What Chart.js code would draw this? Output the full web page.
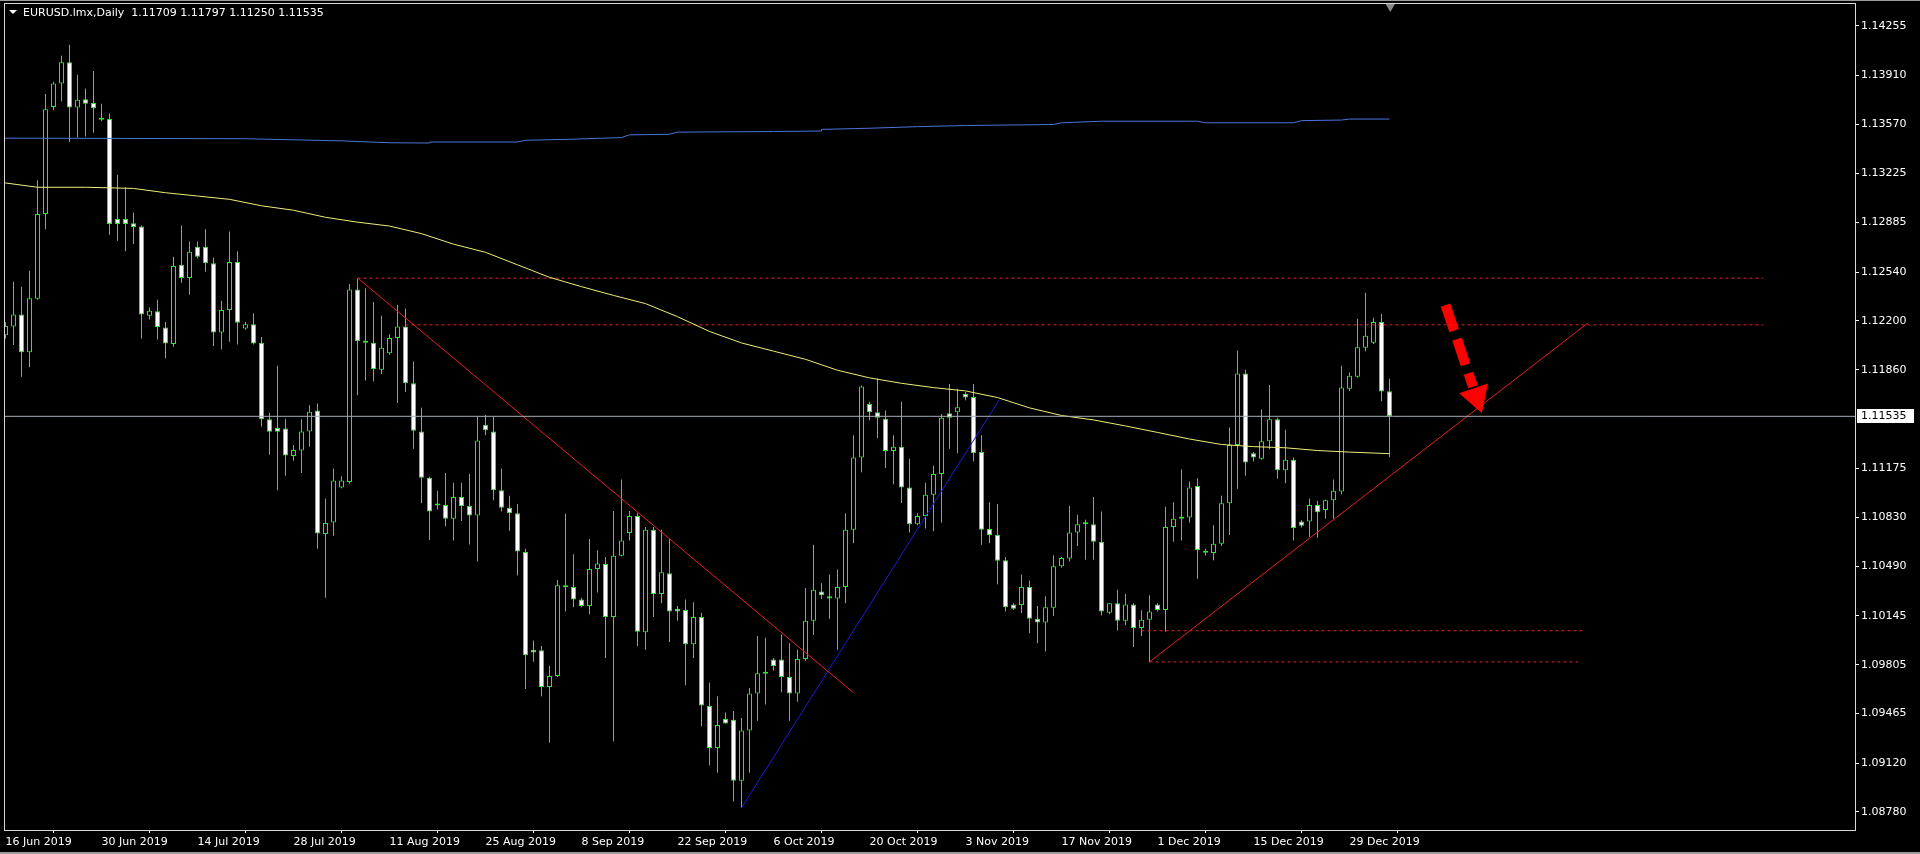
<!DOCTYPE html>
<html>
<head>
<meta charset="utf-8">
<title>EURUSD.lmx,Daily</title>
<script src="https://cdn.jsdelivr.net/npm/chart.js@4.4.1/dist/chart.umd.min.js"></script>
<style>
  html, body { margin: 0; padding: 0; background: #000; overflow: hidden; }
  #wrap { position: relative; width: 1920px; height: 854px; }
  canvas { display: block; background: #000; }
</style>
</head>
<body>
<div id="wrap"><canvas id="priceChart" width="1920" height="854"></canvas></div>
<script>
const symbolTitle = "EURUSD.lmx,Daily";
const lastQuote = ["1.11709", "1.11797", "1.11250", "1.11535"];
const bidPrice = 1.11535;

// daily bars, 16 Jun 2019 .. 3 Jan 2020 (broker has sunday bars)
const opens = [
  1.12100, 1.12161, 1.12244, 1.11982, 1.12354, 1.12943, 1.13689, 1.13853, 1.14001, 1.13685,
  1.13742, 1.13716, 1.13605, 1.13605, 1.12909, 1.12909, 1.12879, 1.12856, 1.12236, 1.12267,
  1.12153, 1.12039, 1.12590, 1.12499, 1.12715, 1.12715, 1.12601, 1.12119, 1.12275, 1.12609,
  1.12146, 1.12176, 1.12047, 1.11514, 1.11453, 1.11450, 1.11259, 1.11297, 1.11430, 1.11575,
  1.10716, 1.10796, 1.11039, 1.11077, 1.12419, 1.12058, 1.12047, 1.11860, 1.11974, 1.12081,
  1.12161, 1.11765, 1.11430, 1.11107, 1.10920, 1.10917, 1.10822, 1.10974, 1.10910, 1.10845,
  1.11476, 1.11430, 1.11020, 1.10898, 1.10860, 1.10590, 1.09910, 1.09906, 1.09651, 1.09727,
  1.10358, 1.10347, 1.10259, 1.10214, 1.10472, 1.10507, 1.10138, 1.10564, 1.10723, 1.10841,
  1.10031, 1.10746, 1.10298, 1.10442, 1.10195, 1.10187, 1.09948, 1.10138, 1.09518, 1.09225,
  1.09427, 1.09423, 1.08997, 1.09347, 1.09605, 1.09746, 1.09841, 1.09841, 1.09720, 1.09605,
  1.09845, 1.10111, 1.10316, 1.10282, 1.10267, 1.10347, 1.10746, 1.11248, 1.11621, 1.11564,
  1.11518, 1.11294, 1.11324, 1.11039, 1.10784, 1.10841, 1.10989, 1.11134, 1.11556, 1.11564,
  1.11693, 1.11670, 1.11286, 1.10750, 1.10708, 1.10533, 1.10225, 1.10221, 1.10347, 1.10126,
  1.10100, 1.10202, 1.10491, 1.10545, 1.10727, 1.10784, 1.10784, 1.10662, 1.10168, 1.10233,
  1.10111, 1.10225, 1.10062, 1.10119, 1.10225, 1.10187, 1.10765, 1.10822, 1.10830, 1.11050,
  1.10590, 1.10583, 1.10647, 1.10929, 1.11335, 1.11834, 1.11278, 1.11240, 1.11362, 1.11514,
  1.11160, 1.11233, 1.10803, 1.10803, 1.10917, 1.10883, 1.10951, 1.11012, 1.11727, 1.11811,
  1.12012, 1.12047, 1.12191, 1.11709
];
const highs = [
  1.12191, 1.12472, 1.12438, 1.12548, 1.13179, 1.13780, 1.13864, 1.14046, 1.14122, 1.13913,
  1.13818, 1.13940, 1.13712, 1.13643, 1.13217, 1.13130, 1.12955, 1.12864, 1.12293, 1.12347,
  1.12191, 1.12647, 1.12864, 1.12753, 1.12753, 1.12837, 1.12639, 1.12339, 1.12822, 1.12685,
  1.12191, 1.12252, 1.12088, 1.11560, 1.11887, 1.11518, 1.11335, 1.11514, 1.11613, 1.11624,
  1.10963, 1.11172, 1.11118, 1.12457, 1.12495, 1.12426, 1.12331, 1.12236, 1.12107, 1.12312,
  1.12286, 1.11917, 1.11594, 1.11115, 1.11016, 1.11141, 1.11073, 1.11073, 1.11134, 1.11533,
  1.11545, 1.11533, 1.11172, 1.10982, 1.10925, 1.10613, 1.09974, 1.09936, 1.09796, 1.10396,
  1.10856, 1.10575, 1.10271, 1.10681, 1.10602, 1.10556, 1.10875, 1.11096, 1.10875, 1.10860,
  1.10765, 1.10765, 1.10746, 1.10681, 1.10214, 1.10259, 1.10240, 1.10168, 1.09682, 1.09586,
  1.09472, 1.09484, 1.09434, 1.09644, 1.10005, 1.09993, 1.09853, 1.10016, 1.09955, 1.09910,
  1.10339, 1.10640, 1.10373, 1.10434, 1.10469, 1.10860, 1.11404, 1.11750, 1.11636, 1.11799,
  1.11575, 1.11404, 1.11636, 1.11240, 1.10860, 1.11073, 1.11191, 1.11552, 1.11761, 1.11727,
  1.11704, 1.11761, 1.11404, 1.10936, 1.10925, 1.10556, 1.10233, 1.10434, 1.10392, 1.10214,
  1.10282, 1.10567, 1.10556, 1.10910, 1.10849, 1.10815, 1.10974, 1.10872, 1.10233, 1.10328,
  1.10298, 1.10233, 1.10184, 1.10290, 1.10233, 1.10906, 1.10936, 1.11164, 1.11081, 1.11104,
  1.10613, 1.10777, 1.10982, 1.11457, 1.11993, 1.11860, 1.11286, 1.11583, 1.11754, 1.11526,
  1.11442, 1.11248, 1.10811, 1.10963, 1.10948, 1.10955, 1.11096, 1.11887, 1.11841, 1.12214,
  1.12396, 1.12221, 1.12248, 1.11797
];
const lows = [
  1.12077, 1.12031, 1.11811, 1.11876, 1.12347, 1.12837, 1.13666, 1.13727, 1.13446, 1.13476,
  1.13484, 1.13510, 1.13590, 1.12799, 1.12757, 1.12685, 1.12735, 1.12077, 1.12210, 1.12070,
  1.11940, 1.12020, 1.12465, 1.12381, 1.12636, 1.12541, 1.12024, 1.12001, 1.12054, 1.12035,
  1.12138, 1.12035, 1.11465, 1.11267, 1.11020, 1.11122, 1.11225, 1.11141, 1.11324, 1.10613,
  1.10271, 1.10704, 1.11035, 1.11065, 1.11681, 1.11784, 1.11777, 1.11830, 1.11963, 1.11628,
  1.11704, 1.11309, 1.10929, 1.10674, 1.10887, 1.10769, 1.10670, 1.10807, 1.10643, 1.10525,
  1.11404, 1.10951, 1.10872, 1.10738, 1.10427, 1.09636, 1.09826, 1.09586, 1.09263, 1.09720,
  1.10176, 1.10206, 1.10206, 1.10157, 1.10309, 1.09853, 1.09271, 1.10560, 1.10670, 1.09936,
  1.09910, 1.10138, 1.10233, 1.09963, 1.10111, 1.09663, 1.09853, 1.09377, 1.09104, 1.09054,
  1.09396, 1.08853, 1.08807, 1.09054, 1.09415, 1.09529, 1.09765, 1.09613, 1.09415, 1.09548,
  1.09834, 1.10012, 1.10263, 1.10126, 1.09910, 1.10233, 1.10651, 1.11145, 1.11507, 1.11385,
  1.11176, 1.11062, 1.10932, 1.10727, 1.10777, 1.10754, 1.10735, 1.10796, 1.11309, 1.11278,
  1.11647, 1.11221, 1.10640, 1.10651, 1.10366, 1.10176, 1.10187, 1.10165, 1.10024, 1.09955,
  1.09898, 1.10145, 1.10480, 1.10525, 1.10632, 1.10537, 1.10537, 1.10149, 1.10157, 1.10043,
  1.10081, 1.09929, 1.10005, 1.09822, 1.10176, 1.10035, 1.10662, 1.10670, 1.10796, 1.10404,
  1.10564, 1.10533, 1.10632, 1.10708, 1.11031, 1.11122, 1.11221, 1.11233, 1.11305, 1.11100,
  1.11069, 1.10670, 1.10761, 1.10697, 1.10689, 1.10822, 1.10822, 1.10993, 1.11712, 1.11803,
  1.11989, 1.12039, 1.11640, 1.11250
];
const closes = [
  1.12164, 1.12244, 1.11982, 1.12358, 1.12943, 1.13674, 1.13853, 1.14001, 1.13685, 1.13739,
  1.13712, 1.13681, 1.13600, 1.12875, 1.12875, 1.12875, 1.12853, 1.12244, 1.12271, 1.12157,
  1.12043, 1.12582, 1.12499, 1.12681, 1.12647, 1.12601, 1.12119, 1.12275, 1.12609, 1.12187,
  1.12176, 1.12043, 1.11514, 1.11427, 1.11427, 1.11263, 1.11301, 1.11430, 1.11567, 1.10719,
  1.10792, 1.11088, 1.11088, 1.12419, 1.12058, 1.12047, 1.11864, 1.12012, 1.12081, 1.12161,
  1.11765, 1.11435, 1.11107, 1.10872, 1.10914, 1.10822, 1.10974, 1.10910, 1.10845, 1.11366,
  1.11438, 1.11020, 1.10898, 1.10860, 1.10594, 1.09872, 1.09891, 1.09651, 1.09727, 1.10358,
  1.10345, 1.10259, 1.10214, 1.10472, 1.10510, 1.10138, 1.10564, 1.10670, 1.10841, 1.10035,
  1.10746, 1.10298, 1.10449, 1.10176, 1.10176, 1.09948, 1.10138, 1.09522, 1.09225, 1.09385,
  1.09396, 1.08997, 1.09347, 1.09605, 1.09746, 1.09742, 1.09796, 1.09720, 1.09605, 1.09845,
  1.10111, 1.10328, 1.10290, 1.10267, 1.10347, 1.10746, 1.11248, 1.11743, 1.11564, 1.11526,
  1.11294, 1.11324, 1.11039, 1.10784, 1.10841, 1.10989, 1.11134, 1.11526, 1.11526, 1.11598,
  1.11666, 1.11278, 1.10746, 1.10708, 1.10529, 1.10206, 1.10195, 1.10347, 1.10126, 1.10100,
  1.10206, 1.10491, 1.10548, 1.10727, 1.10784, 1.10792, 1.10662, 1.10176, 1.10233, 1.10111,
  1.10225, 1.10062, 1.10119, 1.10176, 1.10187, 1.10765, 1.10822, 1.10830, 1.11039, 1.10605,
  1.10586, 1.10647, 1.10929, 1.11335, 1.11834, 1.11214, 1.11248, 1.11362, 1.11514, 1.11160,
  1.11233, 1.10757, 1.10773, 1.10917, 1.10868, 1.10951, 1.11016, 1.11735, 1.11818, 1.12016,
  1.12096, 1.12191, 1.11708, 1.11535
];

// moving averages, read at a few bars
const yellowMaBars = [-1, 0, 4, 10, 16, 20, 24, 28, 32, 36, 40, 44, 48, 52, 56, 60, 64, 68, 72, 76, 80, 84,
  88, 92, 96, 100, 104, 108, 112, 116, 120, 124, 128, 132, 136, 140, 144, 148, 152, 156, 160, 164, 168, 173];
const yellowMaValues = [1.13165, 1.13160, 1.13130, 1.13130, 1.13122, 1.13092, 1.13069, 1.13046, 1.13001,
  1.12970, 1.12921, 1.12887, 1.12860, 1.12807, 1.12734, 1.12677, 1.12590, 1.12503, 1.12438, 1.12377,
  1.12320, 1.12229, 1.12126, 1.12046, 1.11989, 1.11932, 1.11856, 1.11803, 1.11765, 1.11735, 1.11712,
  1.11666, 1.11594, 1.11541, 1.11510, 1.11468, 1.11423, 1.11377, 1.11339, 1.11324, 1.11316, 1.11297,
  1.11286, 1.11275];
const blueMaBars = [-1, 30, 42, 48, 53, 53, 64, 65, 71, 77, 78, 83, 84, 96, 102, 102, 108, 114, 120,
  131, 132, 137, 149, 150, 161, 162, 167, 168, 173];
const blueMaValues = [1.13472, 1.13468, 1.13453, 1.13440, 1.13438, 1.13445, 1.13445, 1.13457, 1.13465,
  1.13476, 1.13495, 1.13499, 1.13514, 1.13518, 1.13522, 1.13533, 1.13541, 1.13552, 1.13560, 1.13567,
  1.13579, 1.13590, 1.13590, 1.13579, 1.13579, 1.13594, 1.13598, 1.13605, 1.13605];

// drawn objects: [bar, price] anchors
const downTrend = [[44.1, 1.12495], [105.9, 1.09615]];
const upTrendBlue = [[92.0, 1.08808], [124.2, 1.11649]];
const upTrendRed = [[143.0, 1.09825], [197.85, 1.12187]];
const levelLines = [
  [[44, 1.12497], [219.7, 1.12497]],
  [[50, 1.12172], [219.7, 1.12172]],
  [[142, 1.10042], [197.1, 1.10042]],
  [[143, 1.09825], [196.6, 1.09825]],
];
const arrowShaft = [[180.0, 1.12310], [183.44, 1.11741]];
const arrowHead = [183.85, 1.11672];
const shiftMarker = [173.1, 1.14393];

const dateTickBars = [0, 12, 24, 36, 48, 60, 72, 84, 96, 108, 120, 132, 144, 156, 168];
const dateTickLabels = ["16 Jun 2019", "30 Jun 2019", "14 Jul 2019", "28 Jul 2019", "11 Aug 2019",
  "25 Aug 2019", "8 Sep 2019", "22 Sep 2019", "6 Oct 2019", "20 Oct 2019", "3 Nov 2019",
  "17 Nov 2019", "1 Dec 2019", "15 Dec 2019", "29 Dec 2019"];
const priceTicks = [1.14255, 1.13910, 1.13570, 1.13225, 1.12885, 1.12540, 1.12200, 1.11860,
  1.11175, 1.10830, 1.10490, 1.10145, 1.09805, 1.09465, 1.09120, 1.08780];

const candleGreen = "#2ee62e";
const font = { family: "'DejaVu Sans', sans-serif", size: 11 };

function toPoints(pairs) {
  return pairs.map(([x, y]) => ({ x, y }));
}

function lineSet(points, color, extra = {}) {
  return {
    type: "line",
    data: points,
    borderColor: color,
    borderWidth: 1,
    pointRadius: 0,
    tension: 0,
    order: 0,
    ...extra,
  };
}

// no label overhang padding, the plot box is fixed like in the terminal
function fixBox(size) {
  return (scale) => {
    if (scale.isHorizontal()) scale.height = size;
    else scale.width = size;
    scale.paddingTop = 0;
    scale.paddingBottom = 0;
    scale.paddingLeft = 0;
    scale.paddingRight = 0;
  };
}

const bars = opens.map((o, i) => i);
const bodyData = bars.map((i) => ({ x: i, y: [opens[i], closes[i]] }));
const wickData = bars.map((i) => ({ x: i, y: [lows[i], highs[i]] }));
const bodyFill = bars.map((i) => (closes[i] < opens[i] ? "#ffffff" : "#000000"));

const mt4Frame = {
  id: "mt4Frame",
  afterDraw(chart) {
    const { ctx, chartArea: a, width, height } = chart;
    ctx.save();
    // window edges
    ctx.fillStyle = "#9c9c9c";
    ctx.fillRect(0, 0, width, 1);
    ctx.fillRect(0, height - 2, width, 2);

    ctx.strokeStyle = "#d8d8d8";
    ctx.lineWidth = 1;
    ctx.strokeRect(a.left + 0.5, a.top + 0.5, a.right - a.left, a.bottom - a.top);

    // title
    ctx.fillStyle = "#ffffff";
    ctx.beginPath();
    ctx.moveTo(9, 10);
    ctx.lineTo(17, 10);
    ctx.lineTo(13, 14);
    ctx.closePath();
    ctx.fill();
    ctx.font = `${font.size}px ${font.family}`;
    ctx.textBaseline = "middle";
    ctx.textAlign = "left";
    ctx.fillText(`${symbolTitle}  ${lastQuote.join(" ")}`, 23, 13);

    // bid label on the price scale
    const y = Math.round(chart.scales.y.getPixelForValue(bidPrice));
    ctx.fillStyle = "#ffffff";
    ctx.fillRect(a.right + 2, y - 7, 57, 14);
    ctx.fillStyle = "#000000";
    ctx.fillText(bidPrice.toFixed(5), a.right + 6, y);
    ctx.restore();
  },
};

Chart.defaults.color = "#ffffff";
Chart.defaults.font.family = font.family;
Chart.defaults.font.size = font.size;

new Chart(document.querySelector("#priceChart"), {
  type: "bar",
  data: {
    datasets: [
      lineSet(toPoints([[-0.1875, bidPrice], [231.1875, bidPrice]]), "#a4acb4"),
      lineSet(toPoints(yellowMaBars.map((b, k) => [b, yellowMaValues[k]])), "#eeee78"),
      lineSet(toPoints(blueMaBars.map((b, k) => [b, blueMaValues[k]])), "#4a74dc"),
      lineSet(toPoints(downTrend), "#e82020"),
      lineSet(toPoints(upTrendBlue), "#1c1cd8"),
      lineSet(toPoints(upTrendRed), "#e82020"),
      ...levelLines.map((pts) => lineSet(toPoints(pts), "#e02424", { borderDash: [3, 3] })),
      lineSet(toPoints(arrowShaft), "#ff0000", { borderWidth: 10, borderDash: [27, 9], borderCapStyle: "butt" }),
      lineSet(toPoints([arrowHead]), "#ff0000", {
        showLine: false, pointRadius: 17.5, pointStyle: "triangle", pointRotation: 161.4,
        pointBackgroundColor: "#ff0000", pointBorderWidth: 0,
      }),
      lineSet(toPoints([shiftMarker]), "#8a8a8a", {
        showLine: false, pointRadius: 6, pointStyle: "triangle", pointRotation: 180,
        pointBackgroundColor: "#8a8a8a", pointBorderWidth: 0, clip: false,
      }),
      {
        label: "body",
        data: bodyData,
        backgroundColor: bodyFill,
        borderColor: candleGreen,
        borderWidth: 1,
        borderSkipped: false,
        barThickness: 5,
        minBarLength: 2,
        inflateAmount: 0,
        grouped: false,
        order: 1,
      },
      {
        label: "wick",
        data: wickData,
        backgroundColor: candleGreen,
        borderWidth: 0,
        barThickness: 1,
        inflateAmount: 0,
        grouped: false,
        order: 2,
      },
    ],
  },
  options: {
    responsive: false,
    animation: false,
    events: [],
    layout: { autoPadding: false, padding: { left: 4, top: 3, right: 0, bottom: 0 } },
    plugins: { legend: { display: false }, tooltip: { enabled: false } },
    scales: {
      x: {
        type: "linear",
        min: -0.1875,
        max: 231.1875,
        offset: false,
        border: { display: false },
        grid: { drawOnChartArea: false, drawTicks: true, tickLength: 3, color: "#ffffff" },
        ticks: {
          autoSkip: false,
          maxRotation: 0,
          minRotation: 0,
          align: "start",
          padding: 3,
          color: "#ffffff",
          callback: (value, index) => dateTickLabels[index],
        },
        afterBuildTicks: (scale) => {
          scale.ticks = dateTickBars.map((value) => ({ value }));
        },
        afterFit: fixBox(24),
      },
      y: {
        type: "linear",
        position: "right",
        min: 1.0865465,
        max: 1.1441306,
        border: { display: false },
        grid: { drawOnChartArea: false, drawTicks: true, tickLength: 4, color: "#ffffff" },
        ticks: {
          autoSkip: false,
          padding: 2,
          color: "#ffffff",
          callback: (value) => Number(value).toFixed(5),
        },
        afterBuildTicks: (scale) => {
          scale.ticks = priceTicks.map((value) => ({ value }));
        },
        afterFit: fixBox(65),
      },
    },
  },
  plugins: [mt4Frame],
});
</script>
</body>
</html>
